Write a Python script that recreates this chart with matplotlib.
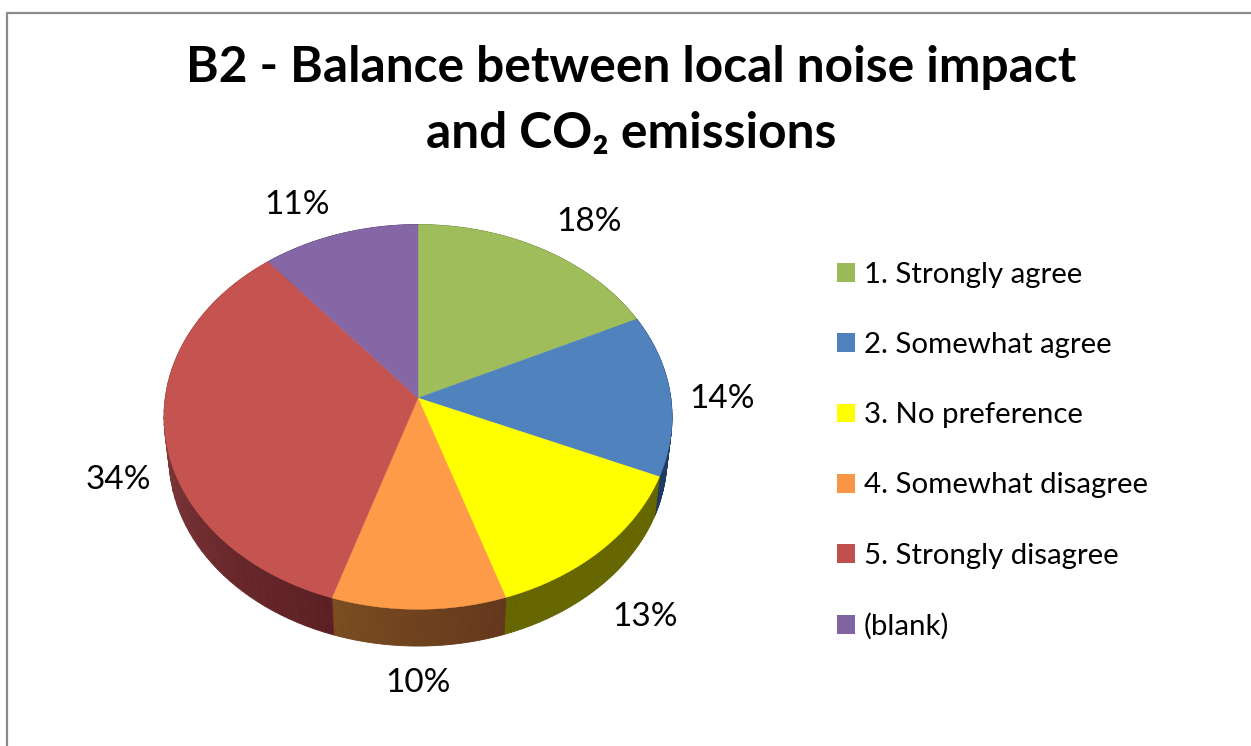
import numpy as np
import matplotlib
matplotlib.use("Agg")
import matplotlib.pyplot as plt
from matplotlib.patches import Patch
from matplotlib.colors import to_rgb

FONT = ['Lato', 'Open Sans', 'DejaVu Sans']
plt.rcParams['font.family'] = FONT

categories = ['1. Strongly agree', '2. Somewhat agree', '3. No preference',
              '4. Somewhat disagree', '5. Strongly disagree', '(blank)']
values = [17.9, 13.6, 13.4, 10.1, 34.0, 11.0]
pct_labels = ['18%', '14%', '13%', '10%', '34%', '11%']
top_colors = ['#9FBD5B', '#5082BE', '#FFFF00', '#FD9B48', '#C5534F', '#8567A6']
legend_colors = ['#9BBB59', '#4F81BD', '#FFFF00', '#F79646', '#C0504D', '#8064A2']
side_start = ['#5f7136', '#1f3a63', '#666600', '#63371c', '#5c2024', '#4d3c62']
side_end = ['#5f7136', '#1f3a63', '#666600', '#7a4c20', '#9c4a48', '#4d3c62']
label_xy = [(589, 222), (722, 399), (645, 617), (418, 683), (118, 480), (297, 205)]
title_lines = ['B2 - Balance between local noise impact', 'and CO\u2082 emissions']

W, H = 1251, 746
CX, CY = 418.0, 398.0
A = 0.0984
RY = 190.5
RX = 252.8
SHRINK, DEPTH = 0.98, 41.0


def project(theta):
    """Clockwise angle from 12 o'clock on the disc -> perspective offsets."""
    u, v = np.sin(theta), np.cos(theta)
    d = 1 + A * v
    return RX * u / d, RY * v / d


fig = plt.figure(figsize=(W / 100, H / 100), dpi=100, facecolor='white')
ax = fig.add_axes([0, 0, 1, 1])
ax.set_xlim(0, W)
ax.set_ylim(H, 0)
ax.axis('off')

# chart frame
ax.plot([7, 7, W], [H, 12.5, 12.5], color='#8c8c8c', lw=1.6, solid_joinstyle='miter')

fracs = np.array(values) / np.sum(values)
edges = np.concatenate([[0], np.cumsum(fracs)]) * 2 * np.pi

# side wall
for i in range(len(values)):
    th = np.linspace(edges[i], edges[i + 1], 60)
    c0, c1 = np.array(to_rgb(side_start[i])), np.array(to_rgb(side_end[i]))
    for k in range(len(th) - 1):
        t = k / (len(th) - 2)
        col = c0 * (1 - t) + c1 * t
        x, y = project(th[k:k + 2])
        px = np.r_[CX + x, CX + SHRINK * x[::-1]]
        py = np.r_[CY - y, CY - SHRINK * y[::-1] + DEPTH]
        ax.fill(px, py, color=col, lw=0.6, zorder=2)

# top face
for i in range(len(values)):
    th = np.linspace(edges[i], edges[i + 1], 200)
    x, y = project(th)
    ax.fill(np.r_[CX, CX + x], np.r_[CY, CY - y], color=top_colors[i], lw=0.3, zorder=3)

for (lx, ly), s in zip(label_xy, pct_labels):
    ax.text(lx, ly, s, ha='center', va='center', fontsize=24, color='black', zorder=5)

ax.text(631, 68, title_lines[0], ha='center', va='center', fontsize=35.7,
        fontweight='bold', color='black')
ax.text(631, 133, title_lines[1], ha='center', va='center', fontsize=35.7,
        fontweight='bold', color='black')

handles = [Patch(facecolor=c, edgecolor='none', label=n) for c, n in zip(legend_colors, categories)]
leg = ax.legend(handles=handles, loc='upper left', bbox_to_anchor=(837 / W, 1 - 262 / H),
                bbox_transform=fig.transFigure, frameon=False, fontsize=21.2,
                handlelength=0.61, handleheight=0.61, handletextpad=0.31,
                labelspacing=1.5, borderpad=0, borderaxespad=0)
for t in leg.get_texts():
    t.set_color('black')

fig.savefig('out.png', dpi=100, facecolor='white')
